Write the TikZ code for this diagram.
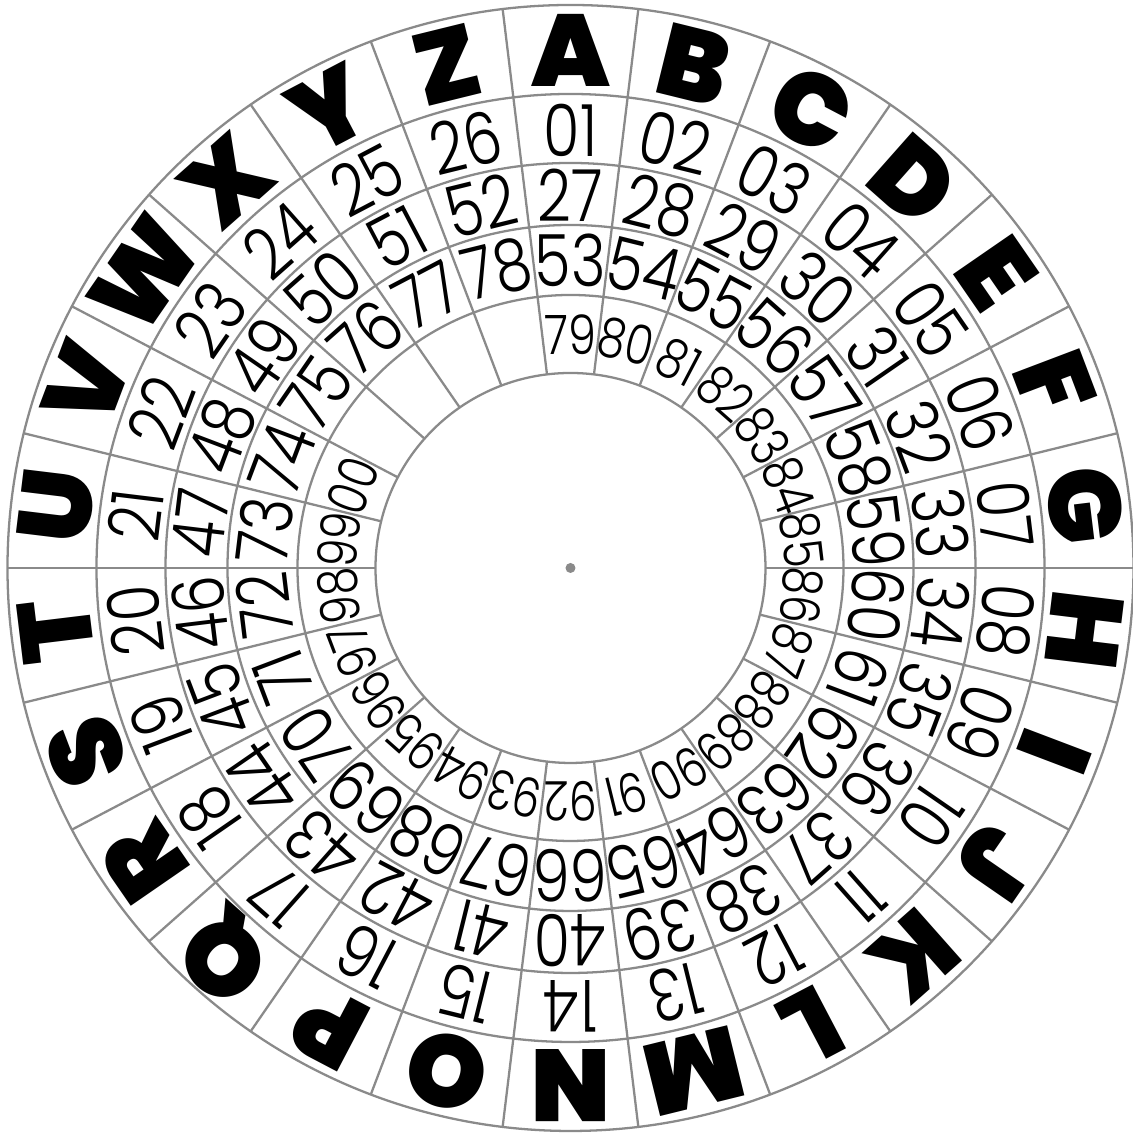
\documentclass[tikz,border=0pt]{standalone}
\usepackage{fontspec}
\newfontfamily\letterfont{Poppins Black}
\newfontfamily\digitfont{Poppins Light}[FakeStretch=0.82]
\usetikzlibrary{positioning}
\definecolor{ringgray}{RGB}{138,138,138}
\tikzset{
	ring/.style = {draw=ringgray, line width=0.65pt},
	letter/.style = {font=\letterfont\fontsize{29}{29}\selectfont, inner sep=0pt},
	num/.style = {font=\digitfont\fontsize{20.5}{20.5}\selectfont, inner sep=0pt},
	smallnum/.style = {font=\digitfont\fontsize{15.5}{15.5}\selectfont, inner sep=0pt},
	hub/.style = {circle, fill=ringgray, inner sep=0pt, minimum size=0.1cm},
}
\newcommand{\twodig}[1]{\ifnum#1<10 0\fi#1}

\begin{document}
\begin{tikzpicture}
	\useasboundingbox (-5.705,-5.65) rectangle (5.625,5.68);
	% rings
	\foreach \r in {5.63,4.74,4.05,3.43,2.73,1.95}
		\draw[ring] (0,0) circle (\r);
	\foreach \i in {0,...,25}
		\draw[ring] ({90-(\i+0.5)*360/26}:1.95) -- ({90-(\i+0.5)*360/26}:5.63);
	\node (hub) [hub] at (0,0) {};
	% letters
	\foreach \l [count=\i from 0] in {A,B,C,D,E,F,G,H,I,J,K,L,M,N,O,P,Q,R,S,T,U,V,W,X,Y,Z}
		\node (let-\i) [letter, rotate={-\i*360/26}] at ({90-\i*360/26}:5.18) {\l};
	% numbers
	\foreach \i in {0,...,25}{
		\pgfmathtruncatemacro{\na}{\i+1}
		\pgfmathtruncatemacro{\nb}{\i+27}
		\pgfmathtruncatemacro{\nc}{\i+53}
		\node (ra-\i) [num, rotate={-\i*360/26}] at ({90-\i*360/26}:4.38) {\twodig{\na}};
		\node (rb-\i) [num, rotate={-\i*360/26}] at ({90-\i*360/26}:3.73) {\nb};
		\node (rc-\i) [num, rotate={-\i*360/26}] at ({90-\i*360/26}:3.08) {\nc};
	}
	\foreach \i in {0,...,21}{
		\pgfmathtruncatemacro{\nd}{mod(\i+79,100)}
		\node (rd-\i) [smallnum, rotate={-\i*360/26}] at ({90-\i*360/26}:2.33) {\twodig{\nd}};
	}
\end{tikzpicture}
\end{document}
